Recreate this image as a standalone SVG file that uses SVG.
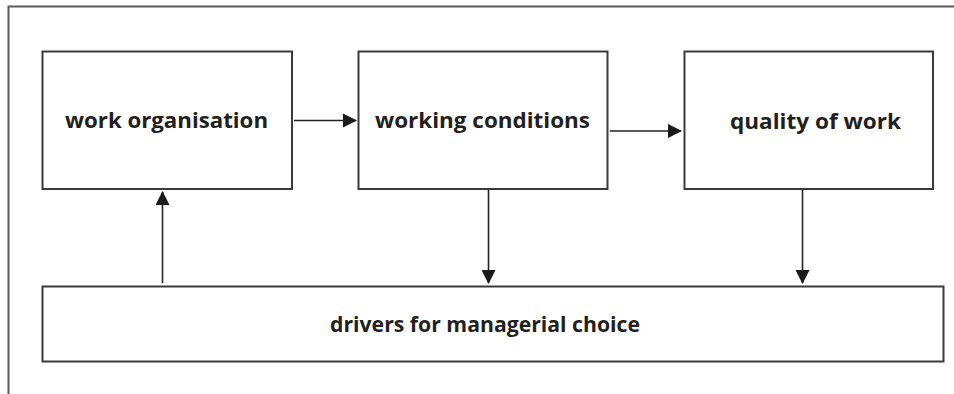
<svg xmlns="http://www.w3.org/2000/svg" width="954" height="394" viewBox="0 0 954 394">
  <style>
    .frame { fill: none; stroke: #5a5a5a; stroke-width: 2; }
    .box { fill: #ffffff; stroke: #3a3a3a; stroke-width: 2; }
    .link { fill: none; stroke: #222222; stroke-width: 1.6; }
    .label { font-family: "Open Sans", "Noto Sans", "Liberation Sans", sans-serif; font-weight: bold; font-size: 22px; fill: #231f20; }
  </style>
  <defs>
    <marker id="head" viewBox="0 0 14 14" refX="13" refY="7" markerWidth="14" markerHeight="14" markerUnits="userSpaceOnUse" orient="auto">
      <path d="M0,0 L14,7 L0,14 Z" fill="#1a1a1a"/>
    </marker>
  </defs>

  <rect width="954" height="394" fill="#ffffff"/>
  <!-- outer frame: top and left edges -->
  <path class="frame" d="M8.5,394 V6.5 H954"/>

  <g id="work-organisation">
    <rect class="box" x="42.5" y="51.5" width="249.5" height="137.5"/>
    <text class="label" x="65" y="128" textLength="203" lengthAdjust="spacingAndGlyphs">work organisation</text>
  </g>
  <g id="working-conditions">
    <rect class="box" x="358.5" y="51.5" width="249" height="137.5"/>
    <text class="label" x="375" y="128" textLength="215" lengthAdjust="spacingAndGlyphs">working conditions</text>
  </g>
  <g id="quality-of-work">
    <rect class="box" x="684.5" y="51.5" width="248.5" height="137.5"/>
    <text class="label" x="730" y="129" textLength="171" lengthAdjust="spacingAndGlyphs">quality of work</text>
  </g>
  <g id="drivers">
    <rect class="box" x="42.5" y="286.5" width="901" height="75"/>
    <text class="label" x="330" y="332" textLength="310" lengthAdjust="spacingAndGlyphs">drivers for managerial choice</text>
  </g>

  <g id="connectors">
    <line class="link" x1="294" y1="120.5" x2="356" y2="120.5" marker-end="url(#head)"/>
    <line class="link" x1="610" y1="131" x2="681" y2="131" marker-end="url(#head)"/>
    <line class="link" x1="162.5" y1="283" x2="162.5" y2="192" marker-end="url(#head)"/>
    <line class="link" x1="488.5" y1="190" x2="488.5" y2="283" marker-end="url(#head)"/>
    <line class="link" x1="802.5" y1="190" x2="802.5" y2="283" marker-end="url(#head)"/>
  </g>
</svg>
